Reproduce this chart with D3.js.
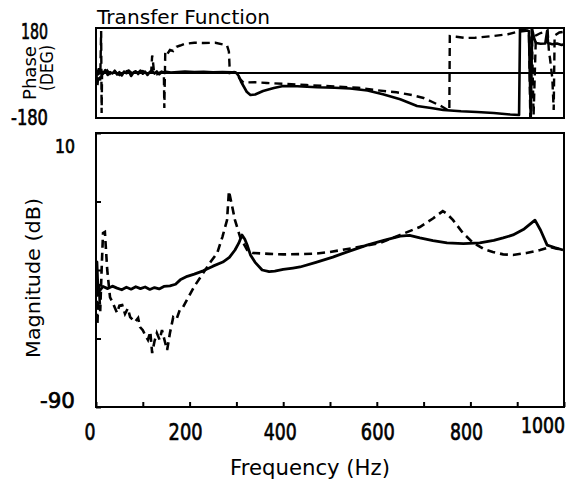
<!DOCTYPE html>
<html><head><meta charset="utf-8">
<script src="https://cdn.jsdelivr.net/npm/d3@7"></script>
<style>html,body{margin:0;padding:0;background:#fff;}svg{display:block;}text{font-family:"DejaVu Sans",sans-serif;fill:#000;}</style>
</head><body><div id="chart"></div>
<script>
// ---------- data ----------
const magSolidFreq = [0,2,4,8,15,25,35,45,55,65,75,85,95,105,115,125,135,145,158,170,180,195,210,229,250,271,285,297,305,312,318,323,330,340,355,370,382,400,421,436,470,506,540,579,615,650,670,692,720,750,785,820,850,870,891,915,938,950,964,980,998];
const magSolidDb = [-40,-37,-46.5,-47.5,-46,-46.8,-45.9,-46.6,-47.2,-46.3,-47,-46.1,-46.8,-46.2,-47.1,-46.4,-46.9,-46,-45.8,-45.2,-43.6,-42.3,-41.5,-40.3,-38.6,-37.1,-35.4,-32.7,-30.2,-27.2,-28.8,-30.9,-34.5,-37.2,-40,-40.6,-40.4,-39.8,-39.3,-38.9,-37.2,-35.3,-33.2,-30.9,-29.2,-27.6,-27.4,-28.3,-29.3,-30.1,-30.4,-30.1,-29.2,-28.3,-27.2,-25,-21.8,-25.5,-30.9,-31.8,-32.7];

const magDashFreq = [0,3,6,9,12,15,19,24,30,36,45,50,56,62,68,73,83,90,94,100,105,111,116,120,125,130,136,141,147,152,158,165,172,179,186,194,210,229,245,259,270,280,284,290,297,308,323,335,370,400,436,470,500,550,607,650,692,720,741,750,763,784,806,830,848,870,891,920,949,970,985,998];
const magDashDb = [-37,-60,-45,-55,-40,-26.5,-26.1,-40,-50,-52,-55.7,-53,-52.8,-56,-54,-57.2,-59,-57.5,-60.8,-62,-63.7,-65.5,-62.5,-70.3,-66,-63,-65.5,-61.9,-66,-69.2,-63,-57.2,-58,-54.6,-53.5,-51,-46,-41.1,-37,-33.8,-28,-21.8,-11.2,-16,-21.8,-28,-32.7,-33.8,-34.1,-34.3,-34.2,-34,-33.4,-32,-30.1,-27.2,-24.3,-21.2,-18.5,-19.5,-21.8,-26.5,-30.1,-32.5,-33.4,-34.3,-34.5,-33.8,-32.7,-31.6,-32.2,-32.7];

const phSolidFreq = [0,2,5,10,15,20,25,30,35,40,45,50,55,60,65,70,75,80,85,90,95,100,105,110,115,120,125,130,135,140,147,150,160,175,190,210,230,250,270,290,300,305,310,316,322,330,340,357,380,400,430,472,510,543,580,613,650,686,716,742,780,814,850,885,904,906,915,925,929,932,936,940,950,960,964,966,975,985,995,1000];
const phSolidDeg = [-40,10,-5,8,-3,12,-8,4,-2,9,-6,3,-10,6,-1,8,-12,2,7,-4,10,-3,5,-8,4,9,-2,6,-5,3,0,5,2,4,6,4,5,3,4,3,0,-12,-35,-55,-75,-88,-86,-72,-60,-52,-53,-57,-59,-62,-70,-85,-105,-132,-140,-148,-153,-156,-160,-166,-168,176,172,168,-176,175,140,120,117,118,168,120,115,118,112,115];

const phDashFreq = [0,3,6,9,11,12,13,18,24,30,40,50,60,70,80,90,100,110,118,120,122,124,130,140,145,146,148,152,158,165,172,180,190,210,230,255,280,284,286,295,302,306,315,340,365,400,450,500,560,600,642,677,700,720,740,755,756,770,790,810,850,880,900,915,925,928,931,935,940,950,960,965,968,970,975,978,980,990,1000];
const phDashDeg = [-10,-55,20,-30,168,-160,5,-6,10,-4,6,-8,4,10,-5,3,8,-3,5,70,40,2,-5,6,2,-140,85,75,92,88,105,110,117,121,120,121,110,85,0,4,2,-20,-38,-37,-40,-43,-48,-53,-59,-69,-77,-89,-100,-117,-135,-152,148,145,140,141,148,155,165,168,170,-178,178,-170,150,160,165,170,80,60,-20,-148,150,162,165];

const freqTicks = [0,100,200,300,400,500,600,700,800,900,1000];
const freqLabels = ["0","200","400","600","800","1000"];
const magTicks = [10,-15,-40,-65,-90];
const magLabels = ["10","-90"];
const phaseLabels = ["180","-180"];

// ---------- chart ----------
const W = 579, H = 481;
const svg = d3.select("#chart").append("svg").attr("width", W).attr("height", H);
svg.append("rect").attr("width", W).attr("height", H).attr("fill", "#fff");

const x = d3.scaleLinear().domain([0, 1000]).range([96, 564]);
const yMag = d3.scaleLinear().domain([-90, 10]).range([407, 133]);
const yPh = d3.scaleLinear().domain([-180, 180]).range([118, 28]);

const defs = svg.append("defs");
defs.append("clipPath").attr("id", "clipPh").append("rect")
  .attr("x", 96).attr("y", 28).attr("width", 468).attr("height", 90);
defs.append("clipPath").attr("id", "clipMag").append("rect")
  .attr("x", 96).attr("y", 133).attr("width", 468).attr("height", 274);

function zip(f, v) { return f.map((d, i) => [d, v[i]]); }

// ---- phase panel ----
const gPh = svg.append("g");
gPh.append("rect").attr("x", x(0)).attr("y", yPh(180)).attr("width", x(1000) - x(0)).attr("height", yPh(-180) - yPh(180))
  .attr("fill", "none").attr("stroke", "#000").attr("stroke-width", 2);
gPh.append("line").attr("x1", x(0)).attr("x2", x(1000)).attr("y1", yPh(0)).attr("y2", yPh(0))
  .attr("stroke", "#000").attr("stroke-width", 1.8);
const linePh = d3.line().x(d => x(d[0])).y(d => yPh(d[1]));
gPh.append("path").datum(zip(phSolidFreq, phSolidDeg)).attr("d", linePh)
  .attr("clip-path", "url(#clipPh)").attr("fill", "none").attr("stroke", "#000").attr("stroke-width", 2.6).attr("stroke-linejoin", "round");
gPh.append("path").datum(zip(phDashFreq, phDashDeg)).attr("d", linePh)
  .attr("clip-path", "url(#clipPh)").attr("fill", "none").attr("stroke", "#000").attr("stroke-width", 2.4).attr("stroke-dasharray", "8,5");

// ---- magnitude panel ----
const gMag = svg.append("g");
gMag.append("rect").attr("x", x(0)).attr("y", yMag(10)).attr("width", x(1000) - x(0)).attr("height", yMag(-90) - yMag(10))
  .attr("fill", "none").attr("stroke", "#000").attr("stroke-width", 2);
gMag.append("g").attr("transform", `translate(0,${yMag(-90)})`)
  .call(d3.axisBottom(x).tickValues(freqTicks).tickSize(-5).tickFormat(""))
  .call(g => { g.select(".domain").remove(); g.selectAll("line").attr("stroke", "#000").attr("stroke-width", 2); });
gMag.append("g").attr("transform", `translate(${x(0)},0)`)
  .call(d3.axisLeft(yMag).tickValues(magTicks).tickSize(-5).tickFormat(""))
  .call(g => { g.select(".domain").remove(); g.selectAll("line").attr("stroke", "#000").attr("stroke-width", 2); });

const lineMag = d3.line().x(d => x(d[0])).y(d => yMag(d[1]));
gMag.append("path").datum(zip(magSolidFreq, magSolidDb)).attr("d", lineMag)
  .attr("clip-path", "url(#clipMag)").attr("fill", "none").attr("stroke", "#000").attr("stroke-width", 2.8).attr("stroke-linejoin", "round");
gMag.append("path").datum(zip(magDashFreq, magDashDb)).attr("d", lineMag)
  .attr("clip-path", "url(#clipMag)").attr("fill", "none").attr("stroke", "#000").attr("stroke-width", 2.6).attr("stroke-dasharray", "8,5");

// ---- text ----
function txt(s, xx, yy, size, len, anchor, heavy) {
  const t = svg.append("text").attr("x", xx).attr("y", yy).attr("font-size", size)
    .attr("text-anchor", anchor || "start")
    .attr("textLength", len).attr("lengthAdjust", "spacingAndGlyphs").text(s);
  if (heavy) t.attr("stroke", "#000").attr("stroke-width", 0.7);
  return t;
}
txt("Transfer Function", 97, 24, 19, 173, "start", false);

// x tick labels
const xLabelShift = { "0": -6, "200": -4, "400": -3, "600": 1, "800": -4, "1000": -21 };
const xLabelLen = { "0": 11, "200": 34, "400": 33, "600": 34, "800": 33, "1000": 44 };
freqLabels.forEach(s => {
  const v = +s;
  txt(s, x(v) + xLabelShift[s], s === "1000" ? 433 : 440, s === "1000" ? 21 : 23, xLabelLen[s], "middle", true);
});
// y tick labels magnitude
txt(magLabels[0], 75, 153, 19, 20, "end", true);
txt(magLabels[1], 75, 408, 22, 35, "end", true);
// phase labels
txt(phaseLabels[0], 48, 39, 21, 27, "end", true);
txt(phaseLabels[1], 48, 125, 21, 37, "end", true);

txt("Frequency (Hz)", 310, 475, 21, 160, "middle", false);
svg.append("text").attr("transform", "translate(40,278) rotate(-90)").attr("font-size", 20)
  .attr("text-anchor", "middle").attr("textLength", 160).attr("lengthAdjust", "spacingAndGlyphs").text("Magnitude (dB)");
svg.append("text").attr("transform", "translate(36,73) rotate(-90)").attr("font-size", 18)
  .attr("text-anchor", "middle").attr("textLength", 54).attr("lengthAdjust", "spacingAndGlyphs").text("Phase");
svg.append("text").attr("transform", "translate(53,68) rotate(-90)").attr("font-size", 17)
  .attr("text-anchor", "middle").attr("textLength", 46).attr("lengthAdjust", "spacingAndGlyphs").text("(DEG)");
</script></body></html>
